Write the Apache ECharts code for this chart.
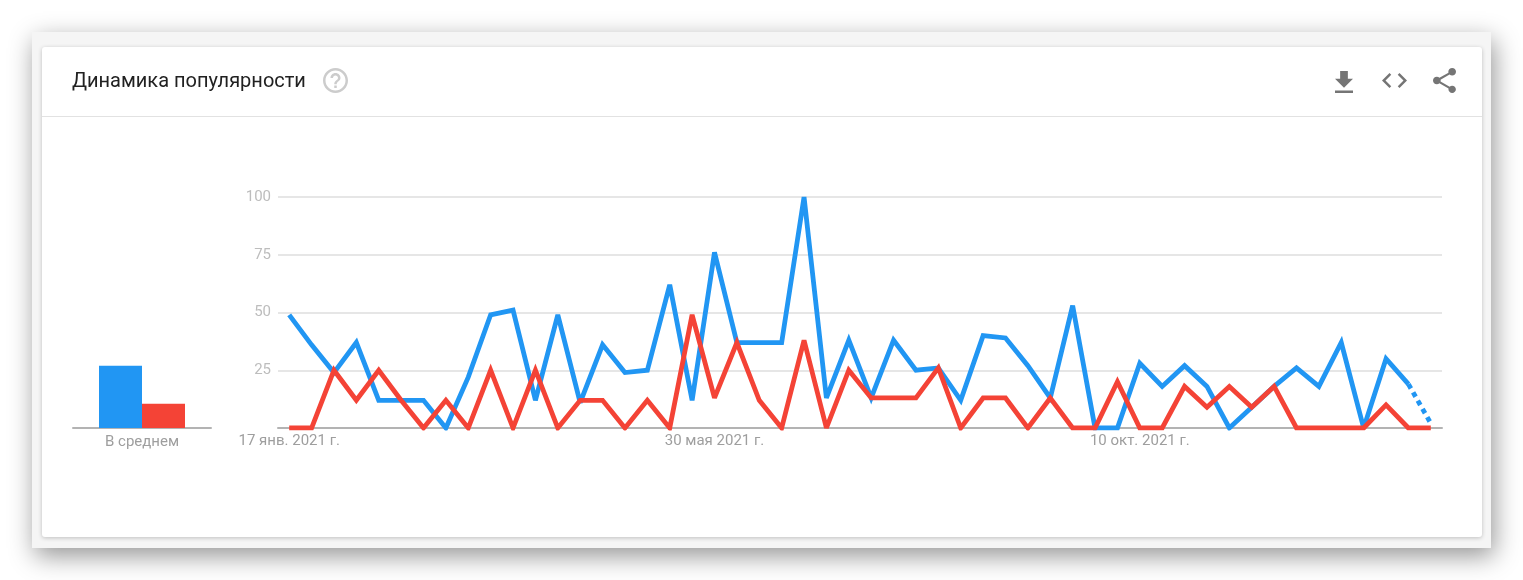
<!DOCTYPE html>
<html>
<head>
<meta charset="utf-8">
<style>html,body{margin:0;padding:0;background:#fff}#c{width:1523px;height:580px}</style>
<script src="https://cdn.jsdelivr.net/npm/echarts@6/dist/echarts.min.js"></script>
</head>
<body>
<div id="c"></div>
<script>
const weeks = ["17 янв. 2021 г.","24 янв. 2021 г.","31 янв. 2021 г.","7 февр. 2021 г.","14 февр. 2021 г.","21 февр. 2021 г.","28 февр. 2021 г.","7 мар. 2021 г.","14 мар. 2021 г.","21 мар. 2021 г.","28 мар. 2021 г.","4 апр. 2021 г.","11 апр. 2021 г.","18 апр. 2021 г.","25 апр. 2021 г.","2 мая 2021 г.","9 мая 2021 г.","16 мая 2021 г.","23 мая 2021 г.","30 мая 2021 г.","6 июн. 2021 г.","13 июн. 2021 г.","20 июн. 2021 г.","27 июн. 2021 г.","4 июл. 2021 г.","11 июл. 2021 г.","18 июл. 2021 г.","25 июл. 2021 г.","1 авг. 2021 г.","8 авг. 2021 г.","15 авг. 2021 г.","22 авг. 2021 г.","29 авг. 2021 г.","5 сент. 2021 г.","12 сент. 2021 г.","19 сент. 2021 г.","26 сент. 2021 г.","3 окт. 2021 г.","10 окт. 2021 г.","17 окт. 2021 г.","24 окт. 2021 г.","31 окт. 2021 г.","7 нояб. 2021 г.","14 нояб. 2021 г.","21 нояб. 2021 г.","28 нояб. 2021 г.","5 дек. 2021 г.","12 дек. 2021 г.","19 дек. 2021 г.","26 дек. 2021 г.","2 янв. 2022 г.","9 янв. 2022 г."];
const shownDates = ["17 янв. 2021 г.","30 мая 2021 г.","10 окт. 2021 г."];
const blueSolid = [49,36,24,37,12,12,12,0,22,49,51,12,49,11,36,24,25,62,12,76,37,37,37,100,13,38,13,38,25,26,12,40,39,27,13,53,0,0,28,18,27,18,0,9,18,26,18,37,0,30,19,null];
const blueDotted = [null,null,null,null,null,null,null,null,null,null,null,null,null,null,null,null,null,null,null,null,null,null,null,null,null,null,null,null,null,null,null,null,null,null,null,null,null,null,null,null,null,null,null,null,null,null,null,null,null,null,19,2];
const red = [0,0,25,12,25,12,0,12,0,25,0,25,0,12,12,0,12,0,49,13,37,12,0,38,0,25,13,13,13,26,0,13,13,0,13,0,0,20,0,0,18,9,18,9,18,0,0,0,0,10,0,0];
const avgLabel = ["В среднем"];
const avgBlue = [27];
const avgRed = [10.5];
const yTicks = [0,25,50,75,100];
const titleText = "Динамика популярности";

const FONT = "Roboto, sans-serif";
const BLUE = "#2196f3", RED = "#f44336";
const icons = [
  {d:"M11 18h2v-2h-2v2zm1-16C6.48 2 2 6.48 2 12s4.48 10 10 10 10-4.48 10-10S17.52 2 12 2zm0 18c-4.41 0-8-3.59-8-8s3.59-8 8-8 8 3.59 8 8-3.59 8-8 8zm0-14c-2.21 0-4 1.79-4 4h2c0-1.1.9-2 2-2s2 .9 2 2c0 2-3 1.75-3 5h2c0-2.25 3-2.5 3-5 0-2.21-1.79-4-4-4z", x:323,y:68,w:25,h:25,c:"#cccccc"},
  {d:"M19 9h-4V3H9v6H5l7 7 7-7zM5 18v2h14v-2H5z", x:1335,y:71,w:18,h:22,c:"#757575"},
  {d:"M9.4 16.6L4.8 12l4.6-4.6L8 6l-6 6 6 6 1.4-1.4zm5.2 0l4.6-4.6-4.6-4.6L16 6l6 6-6 6-1.4-1.4z", x:1382,y:73,w:25,h:15,c:"#757575"},
  {d:"M18 16.08c-.76 0-1.44.3-1.96.77L8.91 12.7c.05-.23.09-.46.09-.7s-.04-.47-.09-.7l7.05-4.11c.54.5 1.25.81 2.04.81 1.66 0 3-1.34 3-3s-1.34-3-3-3-3 1.34-3 3c0 .24.04.47.09.7L8.04 9.81C7.5 9.31 6.79 9 6 9c-1.66 0-3 1.34-3 3s1.34 3 3 3c.79 0 1.5-.31 2.04-.81l7.12 4.16c-.05.21-.08.43-.08.65 0 1.61 1.31 2.92 2.92 2.92 1.61 0 2.92-1.31 2.92-2.92s-1.31-2.92-2.92-2.92z", x:1433,y:68,w:23,h:25,c:"#757575"}
];

const chart = echarts.init(document.getElementById("c"), null, {renderer:"canvas"});
chart.setOption({
  animation:false,
  backgroundColor:"#ffffff",
  title:{text:titleText, left:72, top:71, textStyle:{fontFamily:FONT, fontSize:20, fontWeight:400, color:"#212121", lineHeight:22}, padding:0},
  graphic:[
    {type:"rect", z:-10, shape:{x:32,y:32,width:1459,height:516}, style:{fill:"#f5f5f5", shadowBlur:24, shadowColor:"rgba(0,0,0,0.42)", shadowOffsetX:3, shadowOffsetY:8}},
    {type:"rect", z:-9, shape:{x:42,y:47,width:1440,height:490,r:3}, style:{fill:"#ffffff", shadowBlur:4, shadowColor:"rgba(0,0,0,0.22)", shadowOffsetY:1}},
    {type:"rect", z:-8, shape:{x:42,y:116,width:1440,height:1}, style:{fill:"#e2e2e2"}}
  ],
  grid:[
    {left:278, top:197, width:1164, height:231},
    {left:73, top:197, width:138, height:231}
  ],
  xAxis:[
    {type:"category", gridIndex:0, data:weeks, boundaryGap:true,
     axisLine:{lineStyle:{color:"#b3b3b3", width:2}}, axisTick:{show:false}, splitLine:{show:false},
     axisLabel:{interval:(i,v)=>shownDates.includes(v), color:"#9e9e9e", fontFamily:FONT, fontSize:15, margin:6, hideOverlap:false}},
    {type:"category", gridIndex:1, data:avgLabel,
     axisLine:{lineStyle:{color:"#b3b3b3", width:2}}, axisTick:{show:false},
     axisLabel:{color:"#9e9e9e", fontFamily:FONT, fontSize:15, margin:7}}
  ],
  yAxis:[
    {type:"value", gridIndex:0, min:yTicks[0], max:yTicks[yTicks.length-1], interval:25,
     axisLine:{show:false}, axisTick:{show:false},
     splitLine:{lineStyle:{color:"#e6e6e6", width:2}},
     axisLabel:{color:"#bdbdbd", fontFamily:FONT, fontSize:15, margin:7, padding:[2,0,0,0], formatter:v=>v===0?"":String(v)}},
    {type:"value", gridIndex:1, min:0, max:100, show:false}
  ],
  series:[
    {type:"custom", name:"icons", coordinateSystem:"none", silent:true, data:icons.map((_,i)=>i), z:1,
     renderItem:(p)=>{const k=icons[p.dataIndex];return {type:"path", shape:{pathData:k.d, x:k.x, y:k.y, width:k.w, height:k.h, layout:"cover"}, style:{fill:k.c}};}},
    {type:"line", name:"blue", xAxisIndex:0, yAxisIndex:0, data:blueSolid, showSymbol:false, symbol:"none", connectNulls:false,
     lineStyle:{color:BLUE, width:4.8, join:"miter", miterLimit:3, cap:"butt"}, z:3},
    {type:"line", name:"blueDotted", xAxisIndex:0, yAxisIndex:0, data:blueDotted, showSymbol:false, symbol:"none",
     lineStyle:{color:BLUE, width:4.8, type:[5,4.5], join:"miter", cap:"butt"}, z:3},
    {type:"line", name:"red", xAxisIndex:0, yAxisIndex:0, data:red, showSymbol:false, symbol:"none",
     lineStyle:{color:RED, width:4.8, join:"miter", miterLimit:3, cap:"butt"}, z:4},
    {type:"bar", name:"avgBlue", xAxisIndex:1, yAxisIndex:1, data:avgBlue, barWidth:43, barGap:"0%", itemStyle:{color:BLUE}},
    {type:"bar", name:"avgRed", xAxisIndex:1, yAxisIndex:1, data:avgRed, barWidth:43, barGap:"0%", itemStyle:{color:RED}}
  ]
});
</script>
</body>
</html>
